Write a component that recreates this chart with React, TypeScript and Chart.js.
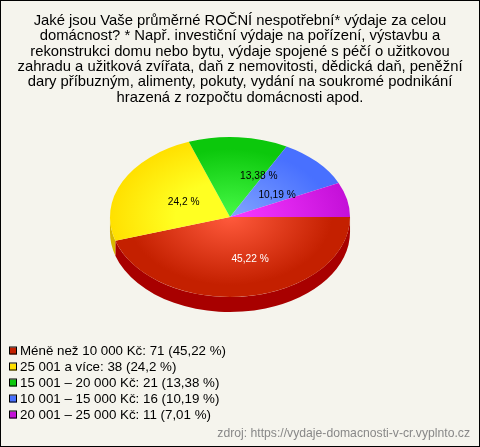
import React, { useEffect, useRef } from "react";
import { Chart, registerables } from "chart.js";

Chart.register(...registerables);

const titleLines = [
  "Jaké jsou Vaše průměrné ROČNÍ nespotřební* výdaje za celou",
  "domácnost? * Např. investiční výdaje na pořízení, výstavbu a",
  "rekonstrukci domu nebo bytu, výdaje spojené s péčí o užitkovou",
  "zahradu a užitková zvířata, daň z nemovitosti, dědická daň, peněžní",
  "dary příbuzným, alimenty, pokuty, vydání na soukromé podnikání",
  "hrazená z rozpočtu domácnosti apod.",
];
const categories = [
  "Méně než 10 000 Kč",
  "25 001 a více",
  "15 001 – 20 000 Kč",
  "10 001 – 15 000 Kč",
  "20 001 – 25 000 Kč",
];
const counts = [71, 38, 21, 16, 11];
const percents = ["45,22 %", "24,2 %", "13,38 %", "10,19 %", "7,01 %"];
const sliceLabels = ["45,22 %", "24,2 %", "13,38 %", "10,19 %", ""];
const labelColors = ["#ffffff", "#000000", "#000000", "#000000", "#000000"];
const labelNudgeX = [12, 2, 25, 8, 0];
const labelNudgeY = [7, 1, -5, 3, 0];
const innerColors = ["#ff5a3c", "#ffff22", "#40f440", "#82a4ff", "#f436ff"];
const outerColors = ["#c42000", "#ffe000", "#0cc80c", "#4870ff", "#c410d8"];
const innerStops = [0, 0.45, 0.1, 0, 0.1];
const outerStops = [0.85, 1, 0.85, 0.85, 1];
const sideColors = ["#a80000", "#d8b800", "#0a9a0a", "#3050c0", "#9000a0"];

const PIE_X = 230;
const PIE_Y = 217;
const TILT = 2 / 3;
const DEPTH = 15;
const FONT = '"Liberation Sans", Arial, sans-serif';

const pie3d = {
  id: "pie3d",
  beforeDatasetsDraw(chart: any) {
    const { ctx } = chart;
    const arcs = chart.getDatasetMeta(0).data;
    if (!arcs.length) return;
    const cx = arcs[0].x;
    const cy = arcs[0].y;
    const r = arcs[0].outerRadius;
    ctx.save();
    ctx.translate(PIE_X, PIE_Y);
    ctx.scale(1, TILT);
    ctx.translate(-cx, -cy);
    const d = DEPTH / TILT;
    arcs.forEach((arc: any, i: number) => {
      const a0 = Math.max(arc.startAngle, 0);
      const a1 = Math.min(arc.endAngle, Math.PI);
      if (a1 <= a0) return;
      ctx.beginPath();
      ctx.arc(cx, cy, r, a0, a1);
      ctx.arc(cx, cy + d, r, a1, a0, true);
      ctx.closePath();
      ctx.fillStyle = sideColors[i];
      ctx.fill();
    });
  },
  afterDatasetsDraw(chart: any) {
    const { ctx } = chart;
    const arcs = chart.getDatasetMeta(0).data;
    if (!arcs.length) return;
    ctx.restore();
    ctx.save();
    ctx.textAlign = "center";
    ctx.textBaseline = "middle";
    ctx.font = `10.2px ${FONT}`;
    arcs.forEach((arc: any, i: number) => {
      if (!sliceLabels[i]) return;
      const mid = (arc.startAngle + arc.endAngle) / 2;
      const x = PIE_X + 0.45 * arc.outerRadius * Math.cos(mid) + labelNudgeX[i];
      const y = PIE_Y + 0.45 * arc.outerRadius * TILT * Math.sin(mid) + labelNudgeY[i];
      ctx.fillStyle = labelColors[i];
      ctx.fillText(sliceLabels[i], x, y);
    });
    ctx.restore();
  },
  afterDraw(chart: any) {
    const { ctx } = chart;
    ctx.save();
    ctx.textBaseline = "middle";
    ctx.textAlign = "left";
    ctx.font = `13.33px ${FONT}`;
    categories.forEach((name, i) => {
      const y = 351 + i * 16;
      ctx.fillStyle = outerColors[i];
      ctx.fillRect(10, y - 3.5, 7, 7);
      ctx.strokeStyle = "#000000";
      ctx.lineWidth = 1;
      ctx.strokeRect(9.5, y - 4, 7, 7);
      ctx.fillStyle = "#000000";
      ctx.fillText(`${name}: ${counts[i]} (${percents[i]})`, 20, y);
    });
    ctx.textAlign = "right";
    ctx.font = `12.2px ${FONT}`;
    ctx.fillStyle = "#888888";
    ctx.fillText("zdroj: https://vydaje-domacnosti-v-cr.vyplnto.cz", 470, 434);
    ctx.restore();
  },
};

export default function App() {
  const ref = useRef<HTMLCanvasElement>(null);
  useEffect(() => {
    document.body.style.margin = "0";
    const chart = new Chart(ref.current!, {
      type: "pie",
      data: {
        labels: categories,
        datasets: [
          {
            data: counts,
            clip: false,
            borderWidth: 0,
            backgroundColor: (c: any) => {
              const area = c.chart.chartArea;
              if (!area) return outerColors[c.dataIndex];
              const cx = (area.left + area.right) / 2;
              const cy = (area.top + area.bottom) / 2;
              const g = c.chart.ctx.createRadialGradient(cx, cy, 0, cx, cy, 120);
              g.addColorStop(innerStops[c.dataIndex], innerColors[c.dataIndex]);
              g.addColorStop(outerStops[c.dataIndex], outerColors[c.dataIndex]);
              return g;
            },
          } as any,
        ],
      },
      options: {
        animation: false,
        responsive: false,
        rotation: 90,
        layout: { padding: { bottom: 97 } },
        plugins: {
          legend: { display: false },
          tooltip: { enabled: false },
          title: {
            display: true,
            text: titleLines,
            color: "#000000",
            font: { family: FONT, size: 14.8, weight: "normal", lineHeight: 1.04 },
            padding: { top: 13, bottom: 4.6 },
          },
        },
      },
      plugins: [pie3d],
    } as any);
    return () => chart.destroy();
  }, []);
  return (
    <div
      style={{
        position: "relative",
        width: 480,
        height: 447,
        boxSizing: "border-box",
        border: "1px solid #000000",
        background: "#f5f4ed",
      }}
    >
      <canvas
        ref={ref}
        width={480}
        height={447}
        style={{ position: "absolute", left: -1, top: -1, width: 480, height: 447 }}
      />
    </div>
  );
}
